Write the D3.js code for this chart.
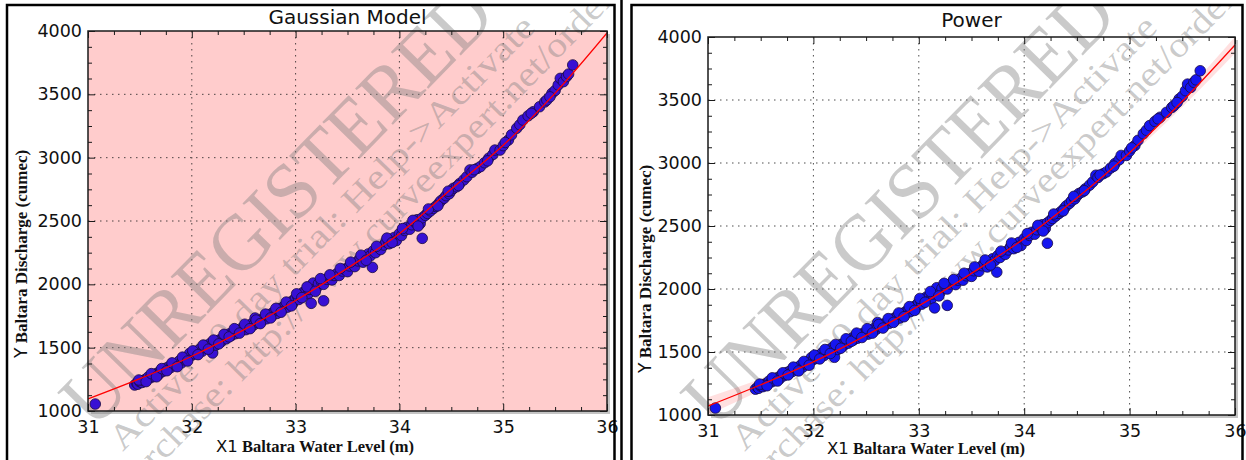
<!DOCTYPE html>
<html><head><meta charset="utf-8">
<script src="https://cdn.jsdelivr.net/npm/d3@7"></script>
<style>body{margin:0;background:#fff}</style>
</head><body><svg id="c" width="1246" height="460"></svg>
<script>
const xTicks=[31,32,33,34,35,36];
const yTicks=[1000,1500,2000,2500,3000,3500,4000];
const xMinor=[31.25,31.5,31.75,32.25,32.5,32.75,33.25,33.5,33.75,34.25,34.5,34.75,35.25,35.5,35.75];
const yMinor=[1125,1250,1375,1625,1750,1875,2125,2250,2375,2625,2750,2875,3125,3250,3375,3625,3750,3875];
const obsX=[31.07,31.45,31.47,31.48,31.50,31.52,31.53,31.55,31.57,31.58,31.60,31.62,31.63,31.65,31.67,31.68,31.70,31.72,31.73,31.75,
31.77,31.78,31.80,31.82,31.83,31.85,31.87,31.88,31.90,31.92,31.93,31.95,31.97,31.98,32.00,32.02,32.03,32.05,32.07,32.08,
32.10,32.12,32.13,32.15,32.17,32.18,32.20,32.20,32.22,32.23,32.25,32.27,32.28,32.30,32.32,32.33,32.35,32.37,32.38,32.40,
32.42,32.43,32.45,32.47,32.48,32.50,32.52,32.53,32.55,32.57,32.58,32.60,32.61,32.63,32.65,32.67,32.68,32.70,32.72,32.73,
32.75,32.77,32.78,32.80,32.82,32.83,32.85,32.87,32.88,32.90,32.92,32.93,32.95,32.97,32.98,33.00,33.02,33.03,33.05,33.07,
33.10,33.12,33.13,33.15,33.15,33.17,33.20,33.22,33.25,33.27,33.27,33.30,33.32,33.35,33.37,33.40,33.42,33.45,33.47,33.50,
33.52,33.55,33.57,33.60,33.62,33.65,33.67,33.70,33.72,33.74,33.75,33.77,33.80,33.82,33.85,33.87,33.90,33.92,33.95,33.97,
34.00,34.02,34.05,34.07,34.10,34.12,34.15,34.17,34.20,34.22,34.22,34.25,34.27,34.30,34.33,34.35,34.38,34.40,34.43,34.45,
34.48,34.50,34.52,34.55,34.58,34.62,34.65,34.68,34.70,34.75,34.78,34.82,34.86,34.90,34.92,34.97,35.00,35.05,35.08,35.13,
35.16,35.19,35.24,35.29,35.35,35.40,35.42,35.47,35.50,35.53,35.55,35.58,35.61,35.63,35.67,
31.49,31.56,31.61,31.66,31.71,31.76,31.81,31.86,31.91,31.96,32.01,32.06,32.11,32.16,32.21,32.26,32.31,32.36,32.41,32.46,
32.51,32.56,32.62,32.66,32.71,32.76,32.81,32.86,32.91,32.96,33.01,33.06,33.11,33.19,33.24,33.33,33.43,33.53,33.63,33.68,
33.78,33.88,33.93,34.03,34.13,34.18,34.28,34.37,34.47,34.57,34.72,34.85,35.02,35.27,35.45];
const obsY=[1055,1205,1220,1212,1230,1225,1240,1248,1255,1268,1262,1280,1272,1292,1300,1288,1318,1312,1325,1338,
1330,1350,1345,1365,1372,1360,1385,1395,1380,1405,1418,1410,1432,1455,1440,1452,1470,1462,1478,1490,
1472,1500,1515,1505,1522,1535,1458,1530,1545,1520,1555,1562,1545,1575,1590,1570,1598,1612,1595,1620,
1610,1635,1628,1648,1640,1655,1642,1668,1675,1662,1690,1682,1734,1700,1712,1705,1725,1740,1728,1752,
1762,1748,1775,1785,1770,1795,1808,1798,1822,1835,1820,1848,1858,1845,1875,1890,1905,1880,1920,1935,
1948,1925,1960,1850,1975,2010,1970,2005,2020,1870,2000,2040,2055,2035,2070,2085,2070,2105,2120,2100,
2145,2160,2140,2185,2200,2175,2215,2240,2225,2134,2265,2250,2290,2275,2310,2335,2320,2355,2370,2345,
2400,2385,2425,2450,2435,2470,2490,2510,2480,2363,2525,2545,2560,2580,2600,2615,2640,2660,2680,2700,
2715,2740,2758,2770,2795,2824,2850,2903,2885,2915,2929,2960,2995,3025,3060,3060,3095,3139,3180,3232,
3260,3297,3330,3363,3402,3440,3455,3508,3530,3574,3626,3600,3640,3660,3732,
1245,1232,1295,1270,1335,1318,1380,1350,1425,1395,1475,1445,1520,1488,1560,1530,1605,1585,1650,1615,
1685,1650,1718,1690,1765,1735,1810,1780,1860,1830,1925,1895,1980,1945,2045,2075,2125,2175,2230,2190,
2300,2365,2330,2440,2505,2460,2595,2620,2735,2780,2905,2975,3120,3350,3480];
const fitX=[31,31.5,32,32.5,33,33.5,34,34.5,35,35.5,36];
const gaussFitY=[1095,1255,1432,1640,1872,2128,2400,2752,3098,3510,3985];
const powerFitY=[1071,1240,1422,1632,1866,2124,2400,2722,3082,3490,3937];
const powerBandHalf=[70,45,25,15,12,12,14,20,30,45,65];
const titles=["Gaussian Model","Power"];
const xLabelParts=["X1","Baltara Water Level (m)"];
const yLabelParts=["Y","Baltara Discharge (cumec)"];
const watermark=["UNREGISTERED","Active 30 day trial: Help->Activate","Purchase: http://www.curveexpert.net/order"];

const panels=[
 {frame:{l:7,t:5,r:614.5}, plot:{l:88,t:31,r:607,b:411}, titleY:24, bg:"#ffcccc", fill:"#3810d4",
  fit:gaussFitY, band:null, ylab:{x:27,y:358}, xlab:{x:216,y:452}, wmDx:0},
 {frame:{l:631.5,t:5,r:1242.5}, plot:{l:708,t:37,r:1235,b:415}, titleY:27, bg:"#ffffff", fill:"#1616f0",
  fit:powerFitY, band:powerBandHalf, ylab:{x:651,y:373}, xlab:{x:827,y:454}, wmDx:622}
];
const svg=d3.select("#c");
svg.append("rect").attr("width",1246).attr("height",460).attr("fill","#fff");
const SANS="'DejaVu Sans', sans-serif", SERIF="'Liberation Serif', serif";

panels.forEach((P,i)=>{
  const p=P.plot;
  const x=d3.scaleLinear().domain([31,36]).range([p.l,p.r]);
  const y=d3.scaleLinear().domain([1000,4000]).range([p.b,p.t]);
  const g=svg.append("g");
  const cid="clip"+i, fid="fclip"+i;
  const defs=svg.append("defs");
  defs.append("clipPath").attr("id",cid).append("rect").attr("x",p.l).attr("y",p.t).attr("width",p.r-p.l).attr("height",p.b-p.t);
  defs.append("clipPath").attr("id",fid).append("rect").attr("x",P.frame.l).attr("y",P.frame.t).attr("width",P.frame.r-P.frame.l).attr("height",460-P.frame.t);
  g.append("rect").attr("x",p.l+3).attr("y",p.t+3).attr("width",p.r-p.l).attr("height",p.b-p.t).attr("fill","#c4c4c4");
  g.append("rect").attr("x",p.l).attr("y",p.t).attr("width",p.r-p.l).attr("height",p.b-p.t).attr("fill",P.bg);
  const grid=g.append("g").attr("stroke","#222").attr("stroke-width",1).attr("stroke-dasharray","1.5,4.5").attr("opacity",0.8);
  xTicks.slice(1,-1).forEach(v=>grid.append("line").attr("x1",x(v)).attr("x2",x(v)).attr("y1",p.t).attr("y2",p.b));
  yTicks.slice(1,-1).forEach(v=>grid.append("line").attr("y1",y(v)).attr("y2",y(v)).attr("x1",p.l).attr("x2",p.r));
  const wm=g.append("g").attr("clip-path",`url(#${fid})`).append("g")
    .attr("transform",`translate(${P.wmDx},0) rotate(-45.6)`).attr("fill","#808080").attr("fill-opacity",0.42)
    .attr("font-family",SERIF);
  wm.append("text").attr("x",-242).attr("y",368).attr("font-size",80).attr("textLength",578).attr("lengthAdjust","spacingAndGlyphs").text(watermark[0]);
  wm.append("text").attr("x",-237).attr("y",404).attr("font-size",35).attr("textLength",592).attr("lengthAdjust","spacingAndGlyphs").text(watermark[1]);
  wm.append("text").attr("x",-270).attr("y",440).attr("font-size",35).attr("textLength",700).attr("lengthAdjust","spacingAndGlyphs").text(watermark[2]);
  const cg=g.append("g").attr("clip-path",`url(#${cid})`);
  if(P.band){
    const area=d3.area().x((d,k)=>x(fitX[k])).y0((d,k)=>y(P.fit[k]-P.band[k])).y1((d,k)=>y(P.fit[k]+P.band[k])).curve(d3.curveMonotoneX);
    cg.append("path").datum(fitX).attr("d",area).attr("fill","#ff0000").attr("fill-opacity",0.12);
  }
  cg.append("g").selectAll("circle").data(obsX).join("circle")
    .attr("cx",(d)=>x(d)).attr("cy",(d,k)=>y(obsY[k])).attr("r",5.3)
    .attr("fill",P.fill).attr("stroke","#1a0a40").attr("stroke-width",0.8);
  const line=d3.line().x((d,k)=>x(fitX[k])).y((d,k)=>y(P.fit[k])).curve(d3.curveMonotoneX);
  cg.append("path").datum(fitX).attr("d",line).attr("fill","none").attr("stroke","#ff0000").attr("stroke-width",1.3);
  g.append("rect").attr("x",p.l).attr("y",p.t).attr("width",p.r-p.l).attr("height",p.b-p.t).attr("fill","none").attr("stroke","#1a1a1a").attr("stroke-width",1.5);
  const style=a=>{a.select(".domain").remove();a.selectAll("line").attr("stroke","#1a1a1a").attr("stroke-width",1);};
  g.append("g").attr("transform",`translate(0,${p.b})`).call(d3.axisBottom(x).tickValues(xTicks).tickFormat(d3.format("d")).tickSizeInner(-7).tickSizeOuter(0).tickPadding(9.6))
    .call(style).call(a=>a.selectAll("text").attr("font-family",SANS).attr("font-size",17.5).attr("fill","#111"));
  g.append("g").attr("transform",`translate(${p.l},0)`).call(d3.axisLeft(y).tickValues(yTicks).tickFormat(d3.format("d")).tickSizeInner(-7).tickSizeOuter(0).tickPadding(6))
    .call(style).call(a=>a.selectAll("text").attr("font-family",SANS).attr("font-size",17.5).attr("fill","#111"));
  g.append("g").attr("transform",`translate(0,${p.t})`).call(d3.axisTop(x).tickValues(xTicks).tickFormat("").tickSizeInner(-7).tickSizeOuter(0)).call(style);
  g.append("g").attr("transform",`translate(${p.r},0)`).call(d3.axisRight(y).tickValues(yTicks).tickFormat("").tickSizeInner(-7).tickSizeOuter(0)).call(style);
  g.append("g").attr("transform",`translate(0,${p.b})`).call(d3.axisBottom(x).tickValues(xMinor).tickFormat("").tickSizeInner(-4).tickSizeOuter(0)).call(style);
  g.append("g").attr("transform",`translate(0,${p.t})`).call(d3.axisTop(x).tickValues(xMinor).tickFormat("").tickSizeInner(-4).tickSizeOuter(0)).call(style);
  g.append("g").attr("transform",`translate(${p.l},0)`).call(d3.axisLeft(y).tickValues(yMinor).tickFormat("").tickSizeInner(-4).tickSizeOuter(0)).call(style);
  g.append("g").attr("transform",`translate(${p.r},0)`).call(d3.axisRight(y).tickValues(yMinor).tickFormat("").tickSizeInner(-4).tickSizeOuter(0)).call(style);
  g.append("text").attr("x",(p.l+p.r)/2).attr("y",P.titleY).attr("text-anchor","middle").attr("font-family",SANS).attr("font-size",20).attr("fill","#111").text(titles[i]);
  const xl=g.append("text").attr("x",P.xlab.x).attr("y",P.xlab.y).attr("fill","#111");
  xl.append("tspan").attr("font-family",SANS).attr("font-size",16.5).text(xLabelParts[0]);
  xl.append("tspan").attr("font-family",SERIF).attr("font-weight","bold").attr("font-size",16.5).text(" "+xLabelParts[1]);
  const yl=g.append("text").attr("transform",`translate(${P.ylab.x},${P.ylab.y}) rotate(-90)`).attr("fill","#111");
  yl.append("tspan").attr("font-family",SANS).attr("font-size",17).text(yLabelParts[0]);
  yl.append("tspan").attr("font-family",SERIF).attr("font-weight","bold").attr("font-size",17).text(" "+yLabelParts[1]);
  const f=P.frame;
  g.append("path").attr("d",`M${f.l},460V${f.t}H${f.r}V460`).attr("fill","none").attr("stroke","#000").attr("stroke-width",2.5);
});
svg.append("line").attr("x1",621.5).attr("x2",621.5).attr("y1",0).attr("y2",460).attr("stroke","#000").attr("stroke-width",2.5);
</script></body></html>
